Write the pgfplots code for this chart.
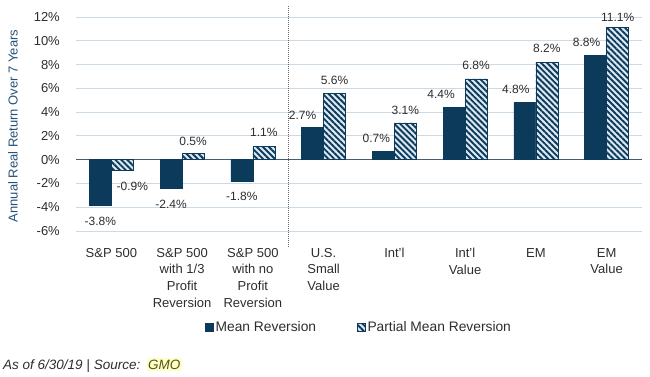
\documentclass[border=0pt]{standalone}
\usepackage{pgfplots}
\pgfplotsset{compat=1.18}
\usepackage{pgfplotstable}
\usepackage{fontspec}
\setmainfont{Liberation Sans}
\usetikzlibrary{patterns.meta}
\definecolor{navy}{RGB}{12,58,91}
\definecolor{hatchbg}{RGB}{220,232,242}
\definecolor{gridc}{RGB}{204,218,230}
\definecolor{zeroc}{RGB}{70,92,115}
\definecolor{ylab}{RGB}{38,82,122}
\definecolor{txt}{RGB}{45,45,45}
\definecolor{hl}{RGB}{255,255,205}
\definecolor{gmo}{RGB}{85,85,10}

\pgfplotstableread{
x y xs ys
0 -3.8 0 -9
1 -2.4 0 -8
2 -1.8 0 -8
3 2.7 -10 4
4 0.7 -7 5
5 4.4 -13 5
6 4.8 -9 5
7 8.8 -9 5
}\meantab
\pgfplotstableread{
x y xs ys
0 -0.9 10 -8
1 0.5 0 5
2 1.1 0 6
3 5.6 0 5
4 3.1 0 5
5 6.8 0 6
6 8.2 0 6
7 11.1 0 3
}\partab

\begin{document}
\begin{tikzpicture}
\useasboundingbox (0,0) rectangle (650pt,-377pt);
\begin{axis}[
  at={(76pt,-231pt)}, anchor=south west,
  scale only axis, width=566pt, height=214pt,
  xmin=-0.5, xmax=7.5, ymin=-6, ymax=12,
  clip=false,
  ybar=0pt, bar width=22pt,
  axis line style={draw=none},
  tick style={draw=none}, major tick length=0pt,
  /pgf/number format/assume math mode=true,
  ytick={-6,-4,...,12},
  yticklabel={\pgfmathprintnumber{\tick}\%},
  yticklabel style={font=\fontsize{13}{15}\selectfont, text=txt, anchor=east, inner sep=0pt, xshift=-16pt},
  ymajorgrids, grid style={gridc, line width=0.9pt},
  extra y ticks={0}, extra y tick labels={},
  extra y tick style={grid style={zeroc, line width=1.1pt}},
  xtick={0,...,7},
  xticklabels={{S\&P 500},{S\&P 500\\with 1/3\\Profit\\Reversion},{S\&P 500\\with no\\Profit\\Reversion},{U.S.\\Small\\Value},{Int'l},{Int'l\\Value},{EM},{EM\\Value}},
  xticklabel style={font=\fontsize{13}{16.7}\selectfont, text=txt, align=center, anchor=north, inner sep=0pt, yshift=-17pt},
  nodes near coords={\pgfmathprintnumber[fixed,precision=1,fixed zerofill]{\pgfplotspointmeta}\%},
  point meta=y,
  visualization depends on={\thisrow{xs} \as \xs},
  visualization depends on={\thisrow{ys} \as \ys},
  every node near coord/.append style={font=\fontsize{12}{14}\selectfont, text=txt, xshift=\xs pt, yshift=\ys pt},
  every axis plot post/.append style={legend image code/.code={\draw[#1, line width=0.4pt] (0pt,-4pt) rectangle (8pt,4pt);}},
  legend columns=-1,
  legend style={at={(rel axis cs:0.228,-0.449)}, anchor=west, draw=none, fill=none, inner sep=0pt,
    font=\fontsize{13.8}{15}\selectfont, text=txt, nodes={inner sep=2pt}},
]
\addplot[fill=navy, draw=navy] table[x=x, y=y] {\meantab};
\addlegendentry{Mean Reversion\hspace*{39pt}\mbox{}}
\addplot[fill=hatchbg, draw=navy, line width=0.5pt,
  postaction={pattern={Lines[angle=-45,distance=4.2pt,line width=1.9pt]}, pattern color=navy}] table[x=x, y=y] {\partab};
\addlegendentry{Partial Mean Reversion}
\draw[black!60, line width=1pt, dash pattern=on 1pt off 1pt] (axis cs:2.5,12.9) -- (axis cs:2.5,-7.4);
\end{axis}
\node[rotate=90, font=\fontsize{13}{15}\selectfont, text=ylab] at (13pt,-126pt) {Annual Real Return Over 7 Years};
\node[anchor=base west, inner sep=0pt, font=\fontsize{13.5}{16}\selectfont\itshape, text=txt] (fn) at (3pt,-369pt) {As of 6/30/19 | Source:};
\node[anchor=base west, inner sep=1.5pt, fill=hl, font=\fontsize{13.5}{16}\selectfont\itshape, text=gmo] at ([xshift=6pt]fn.base east) {GMO};
\end{tikzpicture}
\end{document}
